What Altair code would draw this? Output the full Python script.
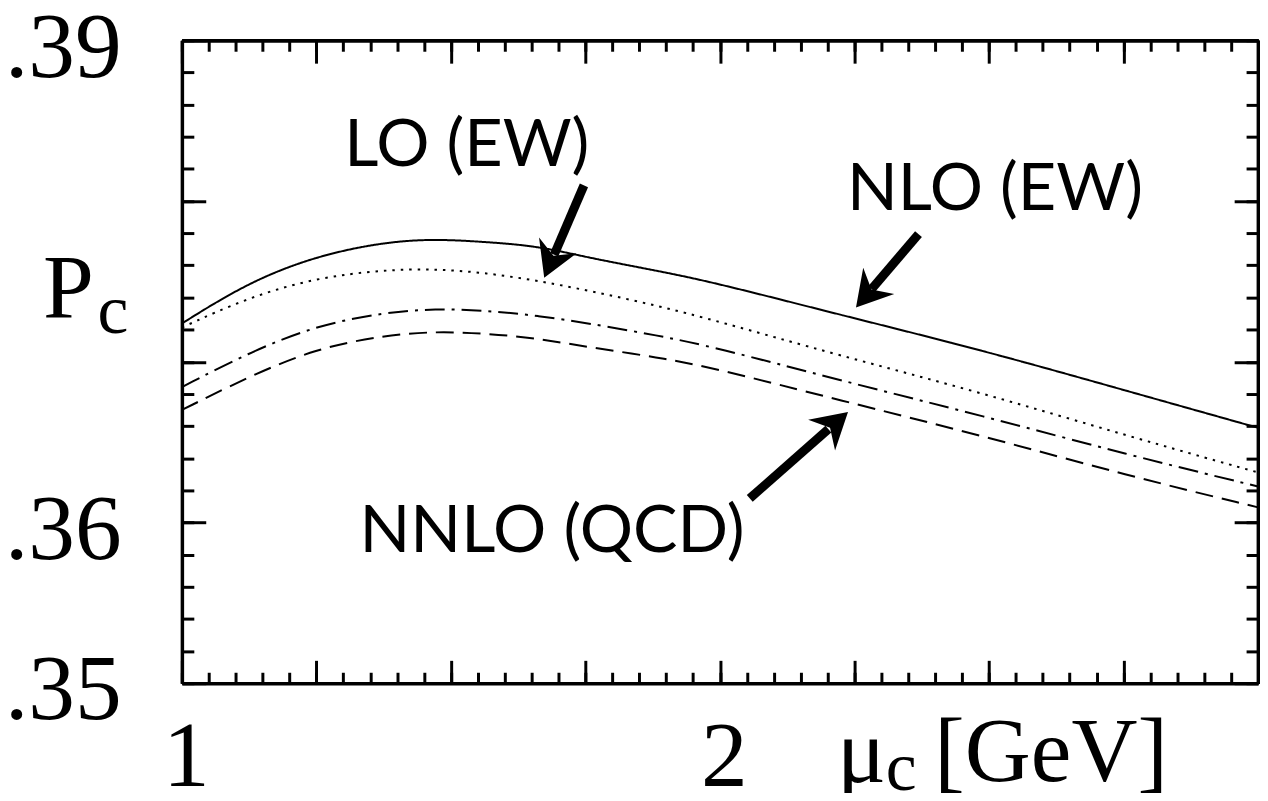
import altair as alt
import pandas as pd

# ---------------- data ----------------
MU = [1.0, 1.122, 1.249, 1.376, 1.471, 1.566, 1.662, 1.757, 1.884, 1.991, 2.221, 2.489, 2.757, 3.0]
P_NLO_EW = [0.37238, 0.37492, 0.37658, 0.37745, 0.37764, 0.37745, 0.37720, 0.37646, 0.37566, 0.37492, 0.37294, 0.37071, 0.36818, 0.36589]
P_LO_EW = [0.37213, 0.37399, 0.37522, 0.37572, 0.37578, 0.37553, 0.37504, 0.37442, 0.37349, 0.37257, 0.37040, 0.36805, 0.36539, 0.36311]
P_DASHDOT = [0.36842, 0.37053, 0.37226, 0.37306, 0.37331, 0.37318, 0.37287, 0.37238, 0.37164, 0.37090, 0.36886, 0.36663, 0.36422, 0.36224]
P_NNLO_QCD = [0.36700, 0.36904, 0.37083, 0.37164, 0.37189, 0.37176, 0.37145, 0.37090, 0.37028, 0.36960, 0.36762, 0.36539, 0.36292, 0.36094]

SERIES = ["NLO (EW)", "LO (EW)", "dash-dot (unlabelled)", "NNLO (QCD)"]
DASHES = [[1, 0], [2.5, 6], [20, 7, 3, 7], [18, 9]]

# ticks and tick labels
X_LABELS = [1, 2]
Y_LABELS = [0.35, 0.36, 0.39]
X_MAJOR = [1.0, 1.25, 1.5, 1.75, 2.0, 2.25, 2.5, 2.75, 3.0]
X_MINOR = [round(1 + 0.05 * i, 2) for i in range(41)]
Y_MAJOR = [0.35, 0.36, 0.37, 0.38, 0.39]
Y_MINOR = [round(0.35 + 0.002 * i, 3) for i in range(21)]

# annotations (data coordinates)
ANN_TEXT = ["LO (EW)", "NLO (EW)", "NNLO (QCD)"]
ANN_X = [1.5295, 2.511, 1.688]
ANN_Y = [0.38215, 0.37943, 0.35816]

# arrows: tail -> neck (shaft), tip (head)
ARR_X = [1.7472, 2.369, 2.0554]
ARR_Y = [0.380974, 0.377944, 0.3615]
NECK_X = [1.6919, 2.2818, 2.2015]
NECK_Y = [0.376662, 0.374513, 0.365802]
TIP_X = [1.6734, 2.2528, 2.238]
TIP_Y = [0.375224, 0.373369, 0.366878]
TIP_ANGLE = [202.8, 220.4, 48.7]

# axis titles (pieces, data coordinates)
TITLE_TEXT = ["P", "\u03bc", "[GeV]"]
TITLE_X = [0.742, 2.2177, 2.3985]
TITLE_Y = [0.372751, 0.34388, 0.343941]
SUB_TEXT = ["c", "c"]
SUB_X = [0.8432, 2.3081]
SUB_Y = [0.371762, 0.343385]

# ---------------- build tables ----------------
rows = []
for name, vals in zip(SERIES, [P_NLO_EW, P_LO_EW, P_DASHDOT, P_NNLO_QCD]):
    for x, y in zip(MU, vals):
        rows.append({"series": name, "x": x, "y": y})
curves = pd.DataFrame(rows)
frame = pd.DataFrame({"x": [1.0, 3.0], "y": [0.35, 0.39]})
ann = pd.DataFrame({"text": ANN_TEXT, "x": ANN_X, "y": ANN_Y})
arrows = pd.DataFrame({"x": ARR_X, "y": ARR_Y, "x2": NECK_X, "y2": NECK_Y,
                       "tx": TIP_X, "ty": TIP_Y, "angle": TIP_ANGLE})
titles = pd.DataFrame({"text": TITLE_TEXT, "x": TITLE_X, "y": TITLE_Y})
subs = pd.DataFrame({"text": SUB_TEXT, "x": SUB_X, "y": SUB_Y})

W, H = 1083, 647
SERIF = "Liberation Serif"
xs = alt.Scale(domain=[1, 3], nice=False, zero=False)
ys = alt.Scale(domain=[0.35, 0.39], nice=False, zero=False)

common = dict(grid=False, title=None, domainColor="black", domainWidth=3.5,
              tickColor="black", tickWidth=3)


def tick_axis(orient, values, size, offset, domain):
    return alt.Axis(orient=orient, values=values, tickSize=size, offset=offset,
                    labels=False, domain=domain, ticks=True, **common)


curves_layer = alt.Chart(curves).mark_line(color="black", strokeWidth=2, interpolate="basis").encode(
    x=alt.X("x:Q", scale=xs, axis=alt.Axis(
        orient="bottom", values=X_LABELS, ticks=False, tickSize=0, labelPadding=103,
        labelBaseline="alphabetic", labelFont=SERIF, labelFontSize=94, labelColor="black",
        labelFlush=False, labelOverlap=False, labelOffset=4, **common)),
    y=alt.Y("y:Q", scale=ys, axis=alt.Axis(
        orient="left", values=Y_LABELS, ticks=False, tickSize=0, labelPadding=61,
        labelExpr="replace(format(datum.value, '.2f'), '0.', '.')",
        labelBaseline="middle", labelOffset=8, labelFont=SERIF, labelFontSize=94,
        labelColor="black", labelFlush=False, labelOverlap=False, **common)),
    strokeDash=alt.StrokeDash("series:N", scale=alt.Scale(domain=SERIES, range=DASHES), legend=None),
    detail="series:N",
)


def axis_layer(xo, xv, xsz, xoff, yo, yv, ysz, yoff, domain):
    return alt.Chart(frame).mark_point(opacity=0).encode(
        x=alt.X("x:Q", scale=xs, axis=tick_axis(xo, xv, xsz, xoff, domain)),
        y=alt.Y("y:Q", scale=ys, axis=tick_axis(yo, yv, ysz, yoff, domain)),
    )


l_bot_major = axis_layer("top", X_MAJOR, 23, -H, "right", Y_MAJOR, 24, -W, False)
l_bot_minor = axis_layer("top", X_MINOR, 11, -H, "right", Y_MINOR, 12, -W, False)
l_top_major = axis_layer("bottom", X_MAJOR, 23, -H, "left", Y_MAJOR, 24, -W, True)
l_top_minor = axis_layer("bottom", X_MINOR, 11, -H, "left", Y_MINOR, 12, -W, True)

XN = dict(scale=xs, axis=None)
YN = dict(scale=ys, axis=None)

ann_layer = alt.Chart(ann).mark_text(font="Lato", fontSize=67, align="center",
                                     baseline="alphabetic", color="black").encode(
    x=alt.X("x:Q", **XN), y=alt.Y("y:Q", **YN), text="text:N")

shafts = alt.Chart(arrows).mark_rule(color="black", strokeWidth=9, strokeCap="butt").encode(
    x=alt.X("x:Q", **XN), y=alt.Y("y:Q", **YN), x2="x2:Q", y2="y2:Q")

HEAD = "M0,0 L0.58,1 L0,0.68 L-0.58,1 Z"
heads = alt.Chart(arrows).mark_point(shape=HEAD, filled=True, size=5000, color="black",
                                     opacity=1, strokeWidth=0).encode(
    x=alt.X("tx:Q", **XN), y=alt.Y("ty:Q", **YN),
    angle=alt.Angle("angle:Q", scale=None))

title_layer = alt.Chart(titles).mark_text(font=SERIF, fontSize=92, align="left",
                                          baseline="alphabetic", color="black").encode(
    x=alt.X("x:Q", **XN), y=alt.Y("y:Q", **YN), text="text:N")

sub_layer = alt.Chart(subs).mark_text(font=SERIF, fontSize=70, align="left",
                                      baseline="alphabetic", color="black").encode(
    x=alt.X("x:Q", **XN), y=alt.Y("y:Q", **YN), text="text:N")

chart = alt.layer(
    curves_layer, l_bot_major, l_bot_minor, l_top_major, l_top_minor,
    shafts, heads, ann_layer, title_layer, sub_layer,
).resolve_axis(x="independent", y="independent").properties(
    width=W, height=H,
    autosize=alt.AutoSizeParams(type="none"),
    padding={"left": 175, "top": 30, "right": 2, "bottom": 108},
    background="white",
).configure_view(stroke=None)

chart.save("out.html", embed_options={"renderer": "svg", "actions": False})
